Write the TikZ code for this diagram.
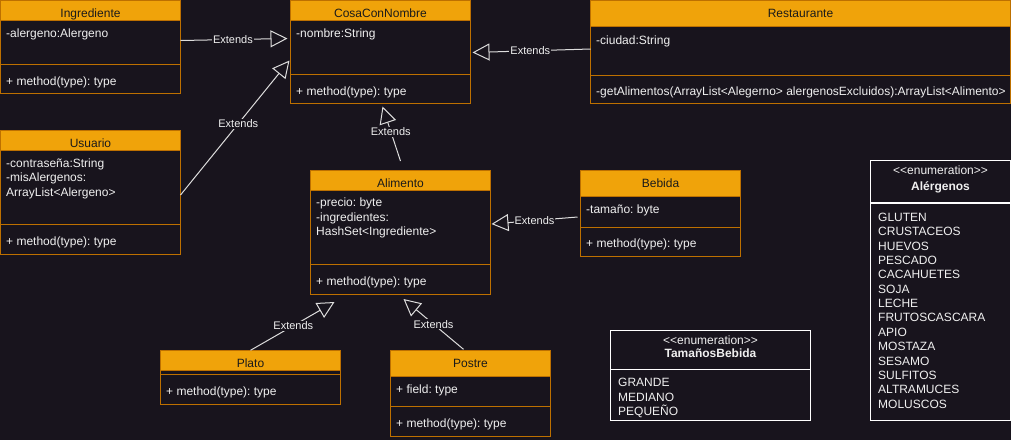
\documentclass[tikz,border=0pt]{standalone}
\usepackage{fontspec}
\setmainfont{Liberation Sans}[Ligatures=TeXOff]
\frenchspacing
\usetikzlibrary{arrows.meta}
\definecolor{bg}{HTML}{18141D}
\definecolor{hdr}{HTML}{F0A30A}
\definecolor{brd}{HTML}{BD7000}
\definecolor{txt}{HTML}{F0F0F0}
\definecolor{htxt}{HTML}{1A1A1A}
\definecolor{lnk}{HTML}{DDDDDD}
\tikzset{
  cls/.style={draw=brd, line width=1pt, fill=bg, anchor=north west, inner sep=0pt, outer sep=0pt,
    path picture={\fill[hdr] (path picture bounding box.north west) rectangle ([yshift=-#1]path picture bounding box.north east);}},
  enumbox/.style={draw=white, line width=1pt, fill=bg, anchor=north west, inner sep=0pt, outer sep=0pt},
  sep/.style={draw=brd, line width=1pt},
  esep/.style={draw=white, line width=1.5pt},
  ttl/.style={anchor=base, text=htxt, font=\fontsize{12}{14.4}\selectfont, inner sep=0pt},
  mem/.style={anchor=base west, text=txt, font=\fontsize{12}{14.4}\selectfont, inner sep=0pt},
  etl/.style={anchor=base, text=txt, font=\fontsize{12}{14.4}\selectfont, inner sep=0pt},
  etb/.style={anchor=base, text=txt, font=\fontsize{12}{14.4}\selectfont\bfseries, inner sep=0pt},
  ext/.style={draw=lnk, line width=1pt, -{Triangle[open, length=17pt, width=17pt]}},
  lbl/.style={fill=bg, text=txt, font=\fontsize{11}{13}\selectfont, inner sep=1pt}
}
\begin{document}
\begin{tikzpicture}[x=1pt, y=-1pt]
\fill[bg] (0,0) rectangle (1011,440);
\useasboundingbox (0,0) rectangle (1011,440);

% Ingrediente
\node[cls=20pt, minimum width=180pt, minimum height=93pt] (ing) at (0.5,0.5) {};
\draw[sep] (0.5,20.5) -- (180.5,20.5);
\draw[sep] (0.5,64) -- (180.5,64);
\node[ttl] (ing-t) at (90.5,17.5) {Ingrediente};
\node[mem] (ing-a) at (6,37) {-alergeno:Alergeno};
\node[mem] (ing-m) at (6,85) {+ method(type): type};

% CosaConNombre
\node[cls=20pt, minimum width=180pt, minimum height=103pt] (cosa) at (290.5,0.5) {};
\draw[sep] (290.5,20.5) -- (470.5,20.5);
\draw[sep] (290.5,74.5) -- (470.5,74.5);
\node[ttl] (cosa-t) at (380.5,17.5) {CosaConNombre};
\node[mem] (cosa-a) at (296,37.3) {-nombre:String};
\node[mem] (cosa-m) at (296,95) {+ method(type): type};

% Restaurante
\node[cls=26pt, minimum width=420pt, minimum height=103pt] (rest) at (590.5,0.5) {};
\draw[sep] (590.5,26.5) -- (1010.5,26.5);
\draw[sep] (590.5,75) -- (1010.5,75);
\node[ttl] (rest-t) at (800.5,17.7) {Restaurante};
\node[mem] (rest-a) at (596,44) {-ciudad:String};
\node[mem] (rest-m) at (596,95.7) {-getAlimentos(ArrayList<Alegerno> alergenosExcluidos):ArrayList<Alimento>};

% Usuario
\node[cls=20pt, minimum width=180pt, minimum height=124pt] (usu) at (0.5,130) {};
\draw[sep] (0.5,150.3) -- (180.5,150.3);
\draw[sep] (0.5,224.3) -- (180.5,224.3);
\node[ttl] (usu-t) at (90.5,147.3) {Usuario};
\node[mem] (usu-a1) at (6,167.3) {-contraseña:String};
\node[mem] (usu-a2) at (6,181.7) {-misAlergenos:};
\node[mem] (usu-a3) at (6,196) {ArrayList<Alergeno>};
\node[mem] (usu-m) at (6,245) {+ method(type): type};

% Alimento
\node[cls=20pt, minimum width=180pt, minimum height=124pt] (ali) at (310.5,170) {};
\draw[sep] (310.5,190.3) -- (490.5,190.3);
\draw[sep] (310.5,264.3) -- (490.5,264.3);
\node[ttl] (ali-t) at (400.5,187.3) {Alimento};
\node[mem] (ali-a1) at (316,206.7) {-precio: byte};
\node[mem] (ali-a2) at (316,221) {-ingredientes:};
\node[mem] (ali-a3) at (316,235.3) {HashSet<Ingrediente>};
\node[mem] (ali-m) at (316,285) {+ method(type): type};

% Bebida
\node[cls=26pt, minimum width=160pt, minimum height=86pt] (beb) at (580.5,170) {};
\draw[sep] (580.5,196.3) -- (740.5,196.3);
\draw[sep] (580.5,227) -- (740.5,227);
\node[ttl] (beb-t) at (660.5,187.3) {Bebida};
\node[mem] (beb-a) at (586,213.3) {-tamaño: byte};
\node[mem] (beb-m) at (586,247.3) {+ method(type): type};

% Plato
\node[cls=20pt, minimum width=180pt, minimum height=54pt] (plato) at (160.5,350.3) {};
\draw[sep] (160.5,370.3) -- (340.5,370.3);
\draw[sep] (160.5,374.3) -- (340.5,374.3);
\node[ttl] (plato-t) at (250.5,367) {Plato};
\node[mem] (plato-m) at (166,395) {+ method(type): type};

% Postre
\node[cls=26pt, minimum width=160pt, minimum height=86pt] (postre) at (390.5,350.3) {};
\draw[sep] (390.5,376.3) -- (550.5,376.3);
\draw[sep] (390.5,406.3) -- (550.5,406.3);
\node[ttl] (postre-t) at (470.5,367) {Postre};
\node[mem] (postre-a) at (396,393.3) {+ field: type};
\node[mem] (postre-m) at (396,427.3) {+ method(type): type};

% TamañosBebida
\node[enumbox, minimum width=200pt, minimum height=90pt] (tam) at (610.5,330.5) {};
\draw[esep] (610.5,369.7) -- (810.5,369.7);
\node[etl] (tam-s) at (710.5,344) {<<enumeration>>};
\node[etb] (tam-t) at (710.5,357.7) {TamañosBebida};
\node[mem] (tam-1) at (618,386.7) {GRANDE};
\node[mem] (tam-2) at (618,401) {MEDIANO};
\node[mem] (tam-3) at (618,415.7) {PEQUEÑO};

% Alérgenos
\node[enumbox, minimum width=140pt, minimum height=260pt] (alg) at (870.5,160.5) {};
\draw[esep] (870.5,203) -- (1010.5,203);
\node[etl] (alg-s) at (940.5,174) {<<enumeration>>};
\node[etb] (alg-t) at (940.5,190.7) {Alérgenos};
\foreach \w [count=\i from 0] in {GLUTEN,CRUSTACEOS,HUEVOS,PESCADO,CACAHUETES,SOJA,LECHE,FRUTOSCASCARA,APIO,MOSTAZA,SESAMO,SULFITOS,ALTRAMUCES,MOLUSCOS}
  \node[mem] (alg-\i) at (878,221.3+14.38*\i) {\w};

% Connectors
\draw[ext] ([yshift=-40pt]ing.north east) -- ([xshift=-3pt,yshift=-38pt]cosa.north west) node[lbl,pos=0.49] (l1) {Extends};
\draw[ext] ([yshift=-65pt]usu.north east) -- ([xshift=-1pt,yshift=-60pt]cosa.north west) node[lbl,pos=0.53] (l2) {Extends};
\draw[ext] ([yshift=-48.5pt]rest.north west) -- ([xshift=2pt,yshift=-52pt]cosa.north east) node[lbl,pos=0.51] (l3) {Extends};
\draw[ext] ([yshift=9pt]ali.north) -- ([xshift=2pt,yshift=-3pt]cosa.south) node[lbl,pos=0.54] (l4) {Extends};
\draw[ext] ([xshift=-3pt,yshift=-47pt]beb.north west) -- ([xshift=1pt,yshift=-54pt]ali.north east) node[lbl,pos=0.5] (l5) {Extends};
\draw[ext] (plato.north) -- ([xshift=-66pt,yshift=-8pt]ali.south) node[lbl,pos=0.51] (l6) {Extends};
\draw[ext] ([xshift=-7pt,yshift=1pt]postre.north) -- ([xshift=3pt,yshift=-5pt]ali.south) node[lbl,pos=0.5] (l7) {Extends};
\end{tikzpicture}
\end{document}
